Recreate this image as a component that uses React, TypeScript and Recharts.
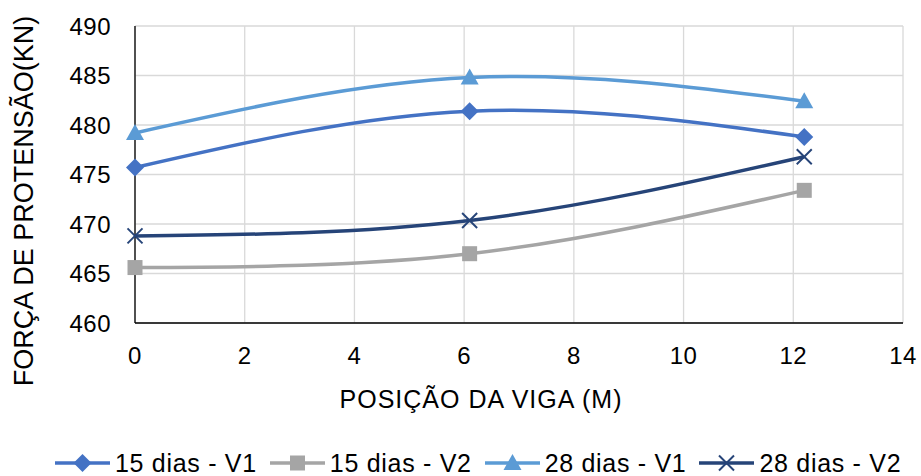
import React from "react";
import {
  CartesianGrid,
  Label,
  Legend,
  Line,
  LineChart,
  XAxis,
  YAxis,
} from "recharts";

// posição ao longo da viga (m)
const positions = [0, 6.1, 12.2];

// força de protensão (kN) por série
const dias15V1 = [475.7, 481.4, 478.8];
const dias15V2 = [465.6, 467.0, 473.4];
const dias28V1 = [479.2, 484.8, 482.4];
const dias28V2 = [468.8, 470.35, 476.8];

const xTicks = [0, 2, 4, 6, 8, 10, 12, 14];
const yTicks = [460, 465, 470, 475, 480, 485, 490];

const FONT = "'Liberation Sans', Arial, sans-serif";

const series = [
  { key: "s15v1", name: "15 dias - V1", color: "#4472C4", marker: "diamond" },
  { key: "s15v2", name: "15 dias - V2", color: "#A5A5A5", marker: "square" },
  { key: "s28v1", name: "28 dias - V1", color: "#5B9BD5", marker: "triangle" },
  { key: "s28v2", name: "28 dias - V2", color: "#264478", marker: "cross" },
];

const data = positions.map((x, i) => ({
  x,
  s15v1: dias15V1[i],
  s15v2: dias15V2[i],
  s28v1: dias28V1[i],
  s28v2: dias28V2[i],
}));

const Marker = ({ type, cx, cy, color }: { type: string; cx: number; cy: number; color: string }) => {
  if (type === "diamond") {
    return <polygon points={`${cx},${cy - 9} ${cx + 9},${cy} ${cx},${cy + 9} ${cx - 9},${cy}`} fill={color} />;
  }
  if (type === "square") {
    return <rect x={cx - 7.5} y={cy - 7.5} width={15} height={15} fill={color} />;
  }
  if (type === "triangle") {
    return <polygon points={`${cx},${cy - 9} ${cx + 9},${cy + 7} ${cx - 9},${cy + 7}`} fill={color} />;
  }
  return (
    <g stroke={color} strokeWidth={2}>
      <line x1={cx - 7.5} y1={cy - 7.5} x2={cx + 7.5} y2={cy + 7.5} />
      <line x1={cx - 7.5} y1={cy + 7.5} x2={cx + 7.5} y2={cy - 7.5} />
    </g>
  );
};

const makeDot = (type: string, color: string) => (props: any) => (
  <Marker key={`${type}-${props.index}`} type={type} cx={props.cx} cy={props.cy} color={color} />
);

const CustomLegend = () => (
  <div
    style={{
      display: "flex",
      alignItems: "center",
      paddingLeft: 55,
      height: 32,
      fontFamily: FONT,
      fontSize: 25,
      letterSpacing: 0.7,
      color: "#000",
    }}
  >
    {series.map((s) => (
      <div key={s.key} style={{ display: "flex", alignItems: "center", marginRight: 13 }}>
        <svg width={55} height={20} style={{ marginRight: 5 }}>
          <line x1={0} y1={10} x2={55} y2={10} stroke={s.color} strokeWidth={3.5} />
          <Marker type={s.marker} cx={27.5} cy={10} color={s.color} />
        </svg>
        <span>{s.name}</span>
      </div>
    ))}
  </div>
);

const App = () => {
  return (
    <div style={{ position: "absolute", left: 0, top: 0, background: "#fff" }}>
      <LineChart
        width={921}
        height={476}
        data={data}
        margin={{ top: 26, right: 18, left: 0, bottom: 93 }}
      >
        <CartesianGrid stroke="#D9D9D9" strokeWidth={1.3} />
        <XAxis
          dataKey="x"
          type="number"
          domain={[0, 14]}
          ticks={xTicks}
          height={60}
          tickLine={false}
          tickSize={0}
          tickMargin={24}
          axisLine={{ stroke: "#000", strokeWidth: 1.3 }}
          tick={{ fill: "#000", fontSize: 24, fontFamily: FONT, letterSpacing: 0.5 }}
        >
          <Label
            content={() => (
              <text
                x={481}
                y={408}
                textAnchor="middle"
                fontSize={25}
                letterSpacing={1}
                fontFamily={FONT}
                fill="#000"
              >
                POSIÇÃO DA VIGA (M)
              </text>
            )}
          />
        </XAxis>
        <YAxis
          type="number"
          domain={[460, 490]}
          ticks={yTicks}
          width={135}
          tickLine={false}
          tickSize={0}
          tickMargin={24}
          axisLine={{ stroke: "#000", strokeWidth: 1.3 }}
          tick={{ fill: "#000", fontSize: 24, fontFamily: FONT, letterSpacing: 0.5 }}
        >
          <Label
            content={() => (
              <text
                transform="translate(33,201) rotate(-90)"
                textAnchor="middle"
                fontSize={27}
                fontFamily={FONT}
                fill="#000"
              >
                FORÇA DE PROTENSÃO(KN)
              </text>
            )}
          />
        </YAxis>
        <Legend
          verticalAlign="middle"
          align="center"
          content={<CustomLegend />}
          wrapperStyle={{ top: 447, left: 0, width: 921 }}
        />
        {series.map((s) => (
          <Line
            key={s.key}
            dataKey={s.key}
            name={s.name}
            type="natural"
            stroke={s.color}
            strokeWidth={3.5}
            dot={makeDot(s.marker, s.color)}
            activeDot={false}
            isAnimationActive={false}
          />
        ))}
      </LineChart>
    </div>
  );
};

export default App;
